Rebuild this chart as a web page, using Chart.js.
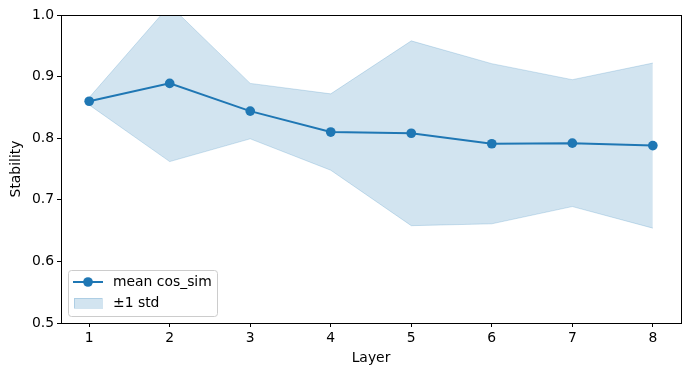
<!DOCTYPE html>
<html>
<head>
<meta charset="utf-8">
<script src="https://cdn.jsdelivr.net/npm/chart.js@4"></script>
<style>
html,body{margin:0;padding:0;background:#fff;}
#wrap{width:691px;height:376px;position:relative;}
</style>
</head>
<body>
<div id="wrap"><canvas id="c" width="691" height="376"></canvas></div>
<script>
const layers = [1, 2, 3, 4, 5, 6, 7, 8];
const meanCos = [0.860, 0.889, 0.844, 0.810, 0.808, 0.791, 0.792, 0.788];
const stdCos = [0.006, 0.127, 0.045, 0.062, 0.150, 0.130, 0.103, 0.134];
const yTicks = [0.5, 0.6, 0.7, 0.8, 0.9, 1.0];
const seriesLabel = 'mean cos_sim';
const bandLabel = '\u00b11 std';

const upper = layers.map((x, i) => ({x: x, y: meanCos[i] + stdCos[i]}));
const lower = layers.map((x, i) => ({x: x, y: meanCos[i] - stdCos[i]}));
const mean = layers.map((x, i) => ({x: x, y: meanCos[i]}));

const BLUE = '#1f77b4';
const BAND = 'rgba(31,119,180,0.2)';
const FONT = 'DejaVu Sans';
const FS = 13.9;
const MR = 4.85;

const framePlugin = {
  id: 'frame',
  afterDraw(chart) {
    const ctx = chart.ctx, a = chart.chartArea;
    ctx.save();
    ctx.strokeStyle = '#000';
    ctx.lineWidth = 1;
    ctx.strokeRect(Math.round(a.left) + 0.5, Math.round(a.top) + 0.5,
                   Math.round(a.right - a.left), Math.round(a.bottom - a.top));
    // legend
    const lx = a.left + 7, ly = a.bottom - 53, lw = 149, lh = 46;
    ctx.fillStyle = 'rgba(255,255,255,0.8)';
    ctx.strokeStyle = '#cccccc';
    ctx.beginPath();
    ctx.roundRect(lx + 0.5, ly + 0.5, lw, lh, 3);
    ctx.fill();
    ctx.stroke();
    // line entry
    const y1 = ly + 12;
    ctx.strokeStyle = BLUE;
    ctx.lineWidth = 2;
    ctx.beginPath();
    ctx.moveTo(lx + 5, y1);
    ctx.lineTo(lx + 35, y1);
    ctx.stroke();
    ctx.fillStyle = BLUE;
    ctx.beginPath();
    ctx.arc(lx + 20, y1, MR, 0, Math.PI * 2);
    ctx.fill();
    // patch entry
    const y2 = ly + 33;
    ctx.fillStyle = BAND;
    ctx.strokeStyle = BAND;
    ctx.lineWidth = 1;
    ctx.fillRect(lx + 6, y2 - 5, 28, 10);
    ctx.strokeRect(lx + 6.5, y2 - 4.5, 28, 10);
    ctx.fillStyle = '#000';
    ctx.font = FS + 'px "' + FONT + '"';
    ctx.textBaseline = 'middle';
    ctx.textAlign = 'left';
    ctx.fillText(seriesLabel, lx + 45, y1);
    ctx.fillText(bandLabel, lx + 45, y2);
    ctx.restore();
  }
};

Chart.defaults.font.family = FONT;
Chart.defaults.font.size = FS;
Chart.defaults.color = '#000';

new Chart(document.getElementById('c'), {
  type: 'line',
  data: {
    datasets: [
      {label: seriesLabel, data: mean, borderColor: BLUE, backgroundColor: BLUE,
       borderWidth: 2, pointRadius: MR, pointHoverRadius: MR, pointBorderWidth: 0,
       pointBackgroundColor: BLUE, fill: false, order: 0, tension: 0},
      {label: bandLabel, data: upper, borderColor: BAND, backgroundColor: BAND,
       borderWidth: 1, pointRadius: 0, fill: '+1', order: 1, tension: 0},
      {label: 'lower', data: lower, borderColor: BAND, backgroundColor: BAND,
       borderWidth: 1, pointRadius: 0, fill: false, order: 2, tension: 0}
    ]
  },
  options: {
    responsive: false,
    animation: false,
    layout: {padding: {left: 0, top: 15, right: 10, bottom: 0}},
    plugins: {legend: {display: false}, tooltip: {enabled: false}},
    scales: {
      x: {
        type: 'linear', min: 0.65, max: 8.35,
        afterBuildTicks(axis) { axis.ticks = layers.map(v => ({value: v})); },
        afterFit(scale) { scale.height = 53; },
        ticks: {padding: 3, maxRotation: 0, callback: v => String(v)},
        grid: {drawOnChartArea: false, drawTicks: true, tickLength: 4, color: '#000'},
        border: {display: true, color: '#000'},
        title: {display: true, text: 'Layer', padding: {top: 0, bottom: 9}}
      },
      y: {
        type: 'linear', min: 0.5, max: 1.0,
        afterBuildTicks(axis) { axis.ticks = yTicks.map(v => ({value: v})); },
        afterFit(scale) { scale.width = 61; },
        ticks: {padding: 3, callback: v => Number(v).toFixed(1)},
        grid: {drawOnChartArea: false, drawTicks: true, tickLength: 4, color: '#000'},
        border: {display: true, color: '#000'},
        title: {display: true, text: 'Stability', padding: {top: 8.5, bottom: 0}}
      }
    }
  },
  plugins: [framePlugin]
});
</script>
</body>
</html>
